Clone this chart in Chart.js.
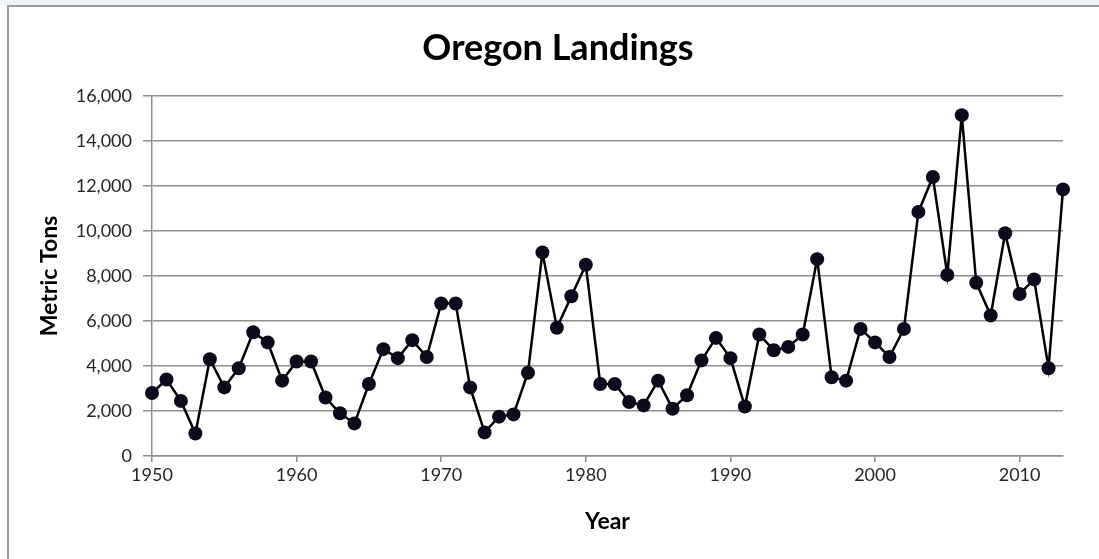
<!DOCTYPE html>
<html>
<head>
<meta charset="utf-8">
<title>Oregon Landings</title>
<script src="https://cdn.jsdelivr.net/npm/chart.js@4/dist/chart.umd.min.js"></script>
<style>
  html, body { margin: 0; padding: 0; background: #ffffff; }
  #wrap { position: relative; width: 1099px; height: 559px; }
</style>
</head>
<body>
<div id="wrap"><canvas id="chart" width="1099" height="559"></canvas></div>
<script>
// Annual landings, metric tons
const years = [
  1950, 1951, 1952, 1953, 1954, 1955, 1956, 1957, 1958, 1959,
  1960, 1961, 1962, 1963, 1964, 1965, 1966, 1967, 1968, 1969,
  1970, 1971, 1972, 1973, 1974, 1975, 1976, 1977, 1978, 1979,
  1980, 1981, 1982, 1983, 1984, 1985, 1986, 1987, 1988, 1989,
  1990, 1991, 1992, 1993, 1994, 1995, 1996, 1997, 1998, 1999,
  2000, 2001, 2002, 2003, 2004, 2005, 2006, 2007, 2008, 2009,
  2010, 2011, 2012, 2013
];
const metricTons = [
  2800, 3400, 2450, 1000, 4300, 3050, 3900, 5500, 5050, 3350,
  4200, 4200, 2600, 1900, 1450, 3200, 4750, 4350, 5150, 4400,
  6780, 6780, 3050, 1050, 1750, 1850, 3700, 9050, 5700, 7100,
  8500, 3200, 3200, 2400, 2250, 3350, 2100, 2700, 4250, 5250,
  4350, 2200, 5400, 4700, 4850, 5400, 8750, 3500, 3350, 5650,
  5050, 4400, 5650, 10850, 12400, 8050, 15150, 7700, 6250, 9900,
  7200, 7850, 3900, 11850
];
const xTickYears = [1950, 1960, 1970, 1980, 1990, 2000, 2010];
const yTickValues = [0, 2000, 4000, 6000, 8000, 10000, 12000, 14000, 16000];

const chartTitle = 'Oregon Landings';
const xAxisTitle = 'Year';
const yAxisTitle = 'Metric Tons';

// White sheet with a thin grey frame along the top and left edges
const framePlugin = {
  id: 'frame',
  beforeDraw(chart) {
    const ctx = chart.ctx;
    ctx.save();
    ctx.fillStyle = '#ffffff';
    ctx.fillRect(0, 0, chart.width, chart.height);
    ctx.fillStyle = '#eef2f5';
    ctx.fillRect(0, 0, chart.width, 5);
    ctx.strokeStyle = '#9c9c9c';
    ctx.lineWidth = 2;
    ctx.beginPath();
    ctx.moveTo(8, chart.height);
    ctx.lineTo(8, 6);
    ctx.lineTo(chart.width, 6);
    ctx.stroke();
    ctx.restore();
  }
};

function build() {
  const points = years.map((yr, i) => ({ x: yr, y: metricTons[i] }));
  new Chart(document.getElementById('chart'), {
    type: 'line',
    data: {
      datasets: [{
        data: points,
        yAxisID: 'y',
        borderColor: '#000000',
        borderWidth: 2.5,
        backgroundColor: '#0b0b1c',
        pointBackgroundColor: '#0b0b1c',
        pointBorderColor: '#0b0b1c',
        pointRadius: 7,
        pointBorderWidth: 0,
        tension: 0,
        fill: false,
        clip: false
      }]
    },
    options: {
      responsive: false,
      animation: false,
      events: [],
      layout: { padding: { left: 17, right: 0, top: 0, bottom: 0 } },
      plugins: {
        legend: { display: false },
        tooltip: { enabled: false },
        title: {
          display: true,
          text: chartTitle,
          color: '#000000',
          font: { family: 'Lato', size: 36, weight: 'bold' },
          padding: { top: 26.4, bottom: 26.4 }
        }
      },
      scales: {
        x: {
          type: 'linear',
          min: 1950,
          max: 2013,
          afterBuildTicks(scale) {
            scale.ticks = xTickYears.map(v => ({ value: v }));
          },
          afterFit(scale) { scale.height = 103; },
          ticks: {
            color: '#262626',
            font: { family: 'Lato', size: 18 },
            padding: 2,
            maxRotation: 0,
            callback: v => String(v)
          },
          grid: {
            display: true,
            drawOnChartArea: false,
            drawTicks: true,
            tickLength: 6,
            color: '#8f8f8f',
            lineWidth: 1.5
          },
          border: { display: true, color: '#8f8f8f', width: 1.5 },
          title: {
            display: true,
            text: xAxisTitle,
            color: '#000000',
            font: { family: 'Lato', size: 23, weight: 'bold' },
            padding: { top: 0, bottom: 24 }
          }
        },
        y: {
          min: 0,
          max: 16000,
          afterBuildTicks(scale) {
            scale.ticks = yTickValues.map(v => ({ value: v }));
          },
          afterFit(scale) { scale.width = 135; },
          ticks: {
            color: '#262626',
            font: { family: 'Lato', size: 18 },
            padding: 11,
            callback: v => v.toLocaleString('en-US')
          },
          grid: {
            color: '#8f8f8f',
            lineWidth: 1.5,
            tickLength: 9
          },
          border: { display: true, color: '#8f8f8f', width: 1.5 },
          title: {
            display: true,
            text: yAxisTitle,
            color: '#000000',
            font: { family: 'Lato', size: 23, weight: 'bold' },
            padding: { top: 19.2, bottom: 0 }
          }
        },
        // Empty right-hand margin beside the plot
        yMargin: {
          position: 'right',
          min: 0,
          max: 16000,
          afterFit(scale) { scale.width = 36; },
          ticks: { display: false },
          grid: { display: false, drawTicks: false },
          border: { display: false }
        }
      }
    },
    plugins: [framePlugin]
  });
}

const fontLoads = [
  '18px Lato', 'bold 23px Lato', 'bold 36px Lato'
].map(f => document.fonts.load(f));
Promise.all(fontLoads).then(build, build);
</script>
</body>
</html>
